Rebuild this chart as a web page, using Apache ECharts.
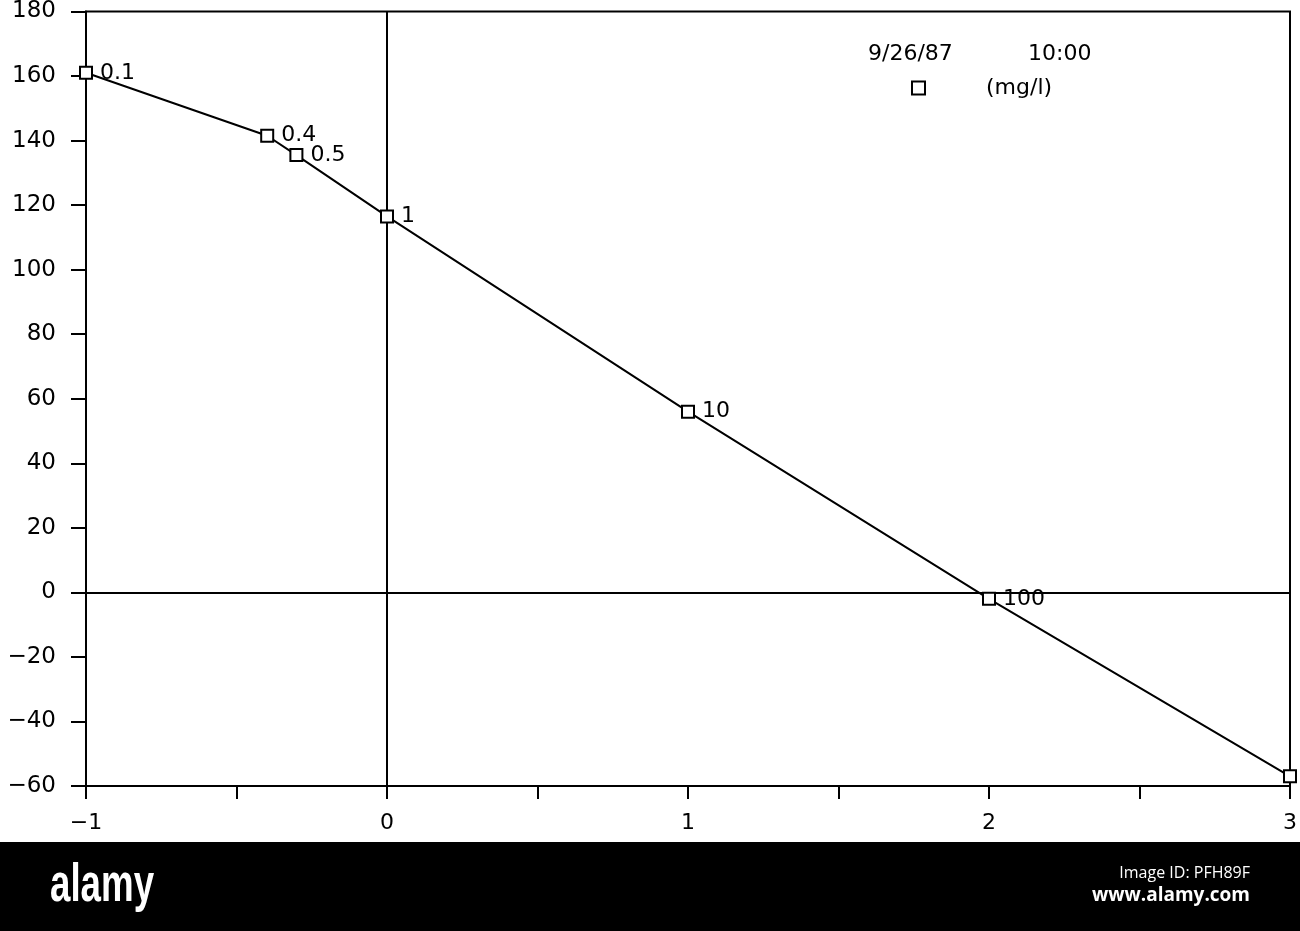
<!DOCTYPE html>
<html>
<head>
<meta charset="utf-8">
<script src="https://cdn.jsdelivr.net/npm/echarts@6/dist/echarts.min.js"></script>
<style>
html,body{margin:0;padding:0;background:#fff;}
#chart{width:1300px;height:931px;}
</style>
</head>
<body>
<div id="chart"></div>
<script>
// Data
const logConcentration = [-1, -0.398, -0.301, 0, 1, 2, 3];   // log10 of concentration (mg/l)
const responseValues   = [161, 141.5, 135.5, 116.5, 56, -2, -57];
const pointLabels      = ['0.1', '0.4', '0.5', '1', '10', '100', ''];
const seriesName = '(mg/l)';
const dateText = '9/26/87';
const timeText = '10:00';
const yMin = -60, yMax = 180, yStep = 20;
const xMin = -1, xMax = 3, xStep = 0.5;

const MINUS = '\u2212';
function fmt(v) { return v < 0 ? MINUS + Math.abs(v) : String(v); }

const FONT = 'DejaVu Sans';
const chart = echarts.init(document.getElementById('chart'), null, {renderer: 'canvas'});

chart.setOption({
  backgroundColor: '#fff',
  animation: false,
  textStyle: {fontFamily: FONT, color: '#000'},
  grid: {
    left: 86, right: 10, top: 10, bottom: 145,
    show: true, borderColor: '#000', borderWidth: 2, backgroundColor: 'transparent'
  },
  legend: {
    left: 906, top: 72,
    itemWidth: 13, itemHeight: 13, icon: 'rect',
    itemStyle: {color: '#fff', borderColor: '#000', borderWidth: 2},
    textStyle: {fontFamily: FONT, fontSize: 22, color: '#000', padding: [0, 0, 0, 56]},
    data: [seriesName]
  },
  xAxis: {
    type: 'value', min: xMin, max: xMax, interval: xStep,
    axisLine: {show: true, onZero: false, lineStyle: {color: '#000', width: 2}},
    axisTick: {show: true, inside: false, length: 13, lineStyle: {color: '#000', width: 2}},
    splitLine: {show: false},
    axisLabel: {
      margin: 26, fontSize: 22, color: '#000', fontFamily: FONT,
      formatter: v => Number.isInteger(v) ? fmt(v) : ''
    }
  },
  yAxis: {
    type: 'value', min: yMin, max: yMax, interval: yStep,
    axisLine: {show: true, onZero: false, lineStyle: {color: '#000', width: 2}},
    axisTick: {show: true, inside: false, length: 15, lineStyle: {color: '#000', width: 2}},
    splitLine: {show: false},
    axisLabel: {margin: 30, fontSize: 23, color: '#000', fontFamily: FONT, formatter: v => fmt(v)}
  },
  series: [{
    name: seriesName,
    type: 'line',
    data: logConcentration.map((x, i) => [x, responseValues[i]]),
    symbol: 'rect', symbolSize: 12,
    itemStyle: {color: '#fff', borderColor: '#000', borderWidth: 2},
    lineStyle: {color: '#000', width: 2},
    z: 5,
    label: {
      show: true, position: 'right', distance: 7,
      fontSize: 22, color: '#000', fontFamily: FONT,
      formatter: p => pointLabels[p.dataIndex]
    },
    markLine: {
      silent: true, symbol: 'none', animation: false,
      label: {show: false},
      lineStyle: {color: '#000', type: 'solid', width: 2},
      data: [{xAxis: 0}, {yAxis: 0}]
    }
  }],
  graphic: [
    {type: 'text', left: 868, top: 43, style: {text: dateText, fontSize: 22, fontFamily: FONT, fill: '#000'}},
    {type: 'text', left: 1028, top: 43, style: {text: timeText, fontSize: 22, fontFamily: FONT, fill: '#000'}},
    {type: 'rect', shape: {x: 0, y: 842, width: 1300, height: 89}, style: {fill: '#000'}, z: 100},
    {type: 'text', x: 50, y: 859, scaleX: 0.68, z: 101,
      style: {text: 'alamy', fontSize: 54, fontWeight: 'bold', fontFamily: 'Liberation Sans', fill: '#fff'}},
    {type: 'text', right: 50, top: 865, z: 101,
      style: {text: 'Image ID: PFH89F', fontSize: 16, fontFamily: 'Open Sans', fill: '#fff'}},
    {type: 'text', right: 50, top: 886, z: 101,
      style: {text: 'www.alamy.com', fontSize: 19, fontWeight: 'bold', fontFamily: 'Open Sans', fill: '#fff'}}
  ]
});
</script>
</body>
</html>
